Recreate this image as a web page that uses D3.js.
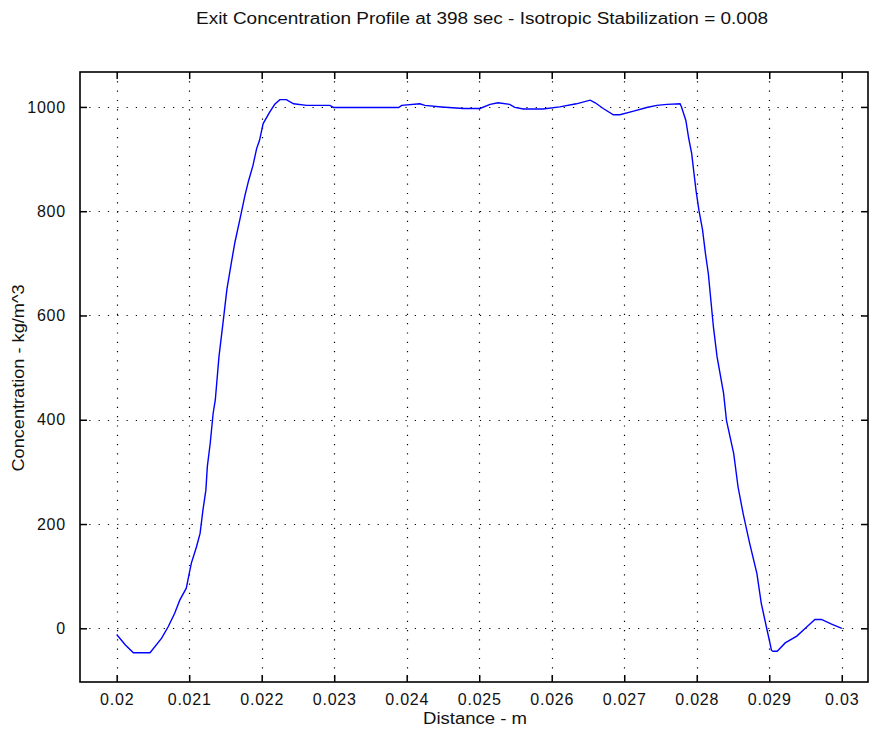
<!DOCTYPE html>
<html><head><meta charset="utf-8">
<script src="https://cdn.jsdelivr.net/npm/d3@7"></script>
<style>body{margin:0;background:#fff}svg{display:block}text{font-family:"Liberation Sans",Arial,sans-serif}</style>
</head><body>
<svg id="c" width="870" height="734"></svg>
<script>
const title = "Exit Concentration Profile at 398 sec - Isotropic Stabilization = 0.008";
const xLabel = "Distance - m";
const yLabel = "Concentration - kg/m^3";
const xTicks = [0.02,0.021,0.022,0.023,0.024,0.025,0.026,0.027,0.028,0.029,0.03];
const xTickLabels = ["0.02","0.021","0.022","0.023","0.024","0.025","0.026","0.027","0.028","0.029","0.03"];
const yTicks = [0,200,400,600,800,1000];
const xDomain = [0.019494, 0.030362];
const yDomain = [-103, 1067];
const distance = [0.02,0.02012,0.02023,0.02046,0.02062,0.02071,0.0208,0.02087,0.02096,0.021,0.02103,0.0211,0.02115,0.02119,0.02123,0.02125,0.02129,0.02133,0.02136,0.02141,0.02147,0.02152,0.02158,0.02163,0.0217,0.02177,0.02182,0.02188,0.02193,0.02197,0.02202,0.02211,0.02218,0.02225,0.02234,0.02244,0.02262,0.02294,0.02299,0.02389,0.02393,0.02418,0.02425,0.02448,0.02478,0.02501,0.02515,0.02526,0.02542,0.02549,0.02561,0.02588,0.02611,0.02634,0.02653,0.0266,0.02671,0.02685,0.02694,0.02713,0.02731,0.02745,0.02759,0.02777,0.02779,0.02785,0.02789,0.02793,0.02796,0.02799,0.02803,0.02808,0.02812,0.02816,0.02823,0.02828,0.02837,0.02841,0.02851,0.02857,0.02864,0.02873,0.02883,0.02889,0.02896,0.029,0.02903,0.02905,0.02911,0.02922,0.02938,0.02952,0.02963,0.02972,0.02986,0.03];
const concentration = [-12,-32,-47,-47,-19,3,29,54,77,105,125,156,182,227,265,310,355,412,438,520,590,650,700,740,785,831,859,888,920,936,968,990,1005,1014,1014,1006,1003,1003,999,999,1003,1006,1003,1000,997,997,1005,1008,1005,999,996,996,1000,1006,1013,1008,997,985,985,992,999,1003,1005,1006,1000,974,939,911,875,840,802,764,719,680,578,521,451,399,335,271,220,163,105,48,3,-22,-42,-44,-44,-28,-15,3,17,17,8,0];

const L=80, R=868, T=72, B=682;
const svg = d3.select("#c");
const x = d3.scaleLinear().domain(xDomain).range([L,R]);
const y = d3.scaleLinear().domain(yDomain).range([B,T]);
const g = svg.append("g");

// grid
g.selectAll(".gx").data(xTicks).join("line")
  .attr("x1",d=>Math.round(x(d))+0.5).attr("x2",d=>Math.round(x(d))+0.5)
  .attr("y1",T).attr("y2",B).attr("stroke","#000").attr("stroke-width",1.2).attr("stroke-dasharray","1.2,8.1");
g.selectAll(".gy").data(yTicks).join("line")
  .attr("y1",d=>Math.round(y(d))+0.5).attr("y2",d=>Math.round(y(d))+0.5)
  .attr("x1",L).attr("x2",R).attr("stroke","#000").attr("stroke-width",1.2).attr("stroke-dasharray","1.2,8.1");

// axes
const tk = 7;
const xb = g.append("g").attr("transform",`translate(0,${B})`).call(d3.axisBottom(x).tickValues(xTicks).tickFormat((d,i)=>xTickLabels[i]).tickSizeInner(-tk).tickSizeOuter(0).tickPadding(12));
const xt = g.append("g").attr("transform",`translate(0,${T})`).call(d3.axisTop(x).tickValues(xTicks).tickFormat("").tickSizeInner(-tk).tickSizeOuter(0));
const yl = g.append("g").attr("transform",`translate(${L},0)`).call(d3.axisLeft(y).tickValues(yTicks).tickFormat(d3.format("d")).tickSizeInner(-tk).tickSizeOuter(0).tickPadding(14));
const yr = g.append("g").attr("transform",`translate(${R},0)`).call(d3.axisRight(y).tickValues(yTicks).tickFormat("").tickSizeInner(-tk).tickSizeOuter(0));
[xb,xt,yl,yr].forEach(a=>{a.select(".domain").remove();a.selectAll("line").attr("stroke","#000").attr("stroke-width",1.5);a.selectAll("text").attr("font-size",16).attr("fill","#111").attr("letter-spacing",0.8).style("font-family","'Liberation Sans',Arial,sans-serif");});

g.append("rect").attr("x",L).attr("y",T).attr("width",R-L).attr("height",B-T).attr("fill","none").attr("stroke","#000").attr("stroke-width",1.6);

// line
g.append("path").datum(distance.map((d,i)=>[d,concentration[i]]))
  .attr("d",d3.line().x(d=>x(d[0])).y(d=>y(d[1])))
  .attr("fill","none").attr("stroke","#0000ff").attr("stroke-width",1.4);

// labels
svg.append("text").attr("x",482).attr("y",24).attr("text-anchor","middle").attr("font-size",16).attr("fill","#111")
  .attr("textLength",572).attr("lengthAdjust","spacingAndGlyphs").text(title);
svg.append("text").attr("x",475).attr("y",724).attr("text-anchor","middle").attr("font-size",16).attr("fill","#111")
  .attr("textLength",104).attr("lengthAdjust","spacingAndGlyphs").text(xLabel);
svg.append("text").attr("transform","translate(24,378) rotate(-90)").attr("text-anchor","middle").attr("font-size",16).attr("fill","#111")
  .attr("textLength",187).attr("lengthAdjust","spacingAndGlyphs").text(yLabel);
</script>
</body></html>
